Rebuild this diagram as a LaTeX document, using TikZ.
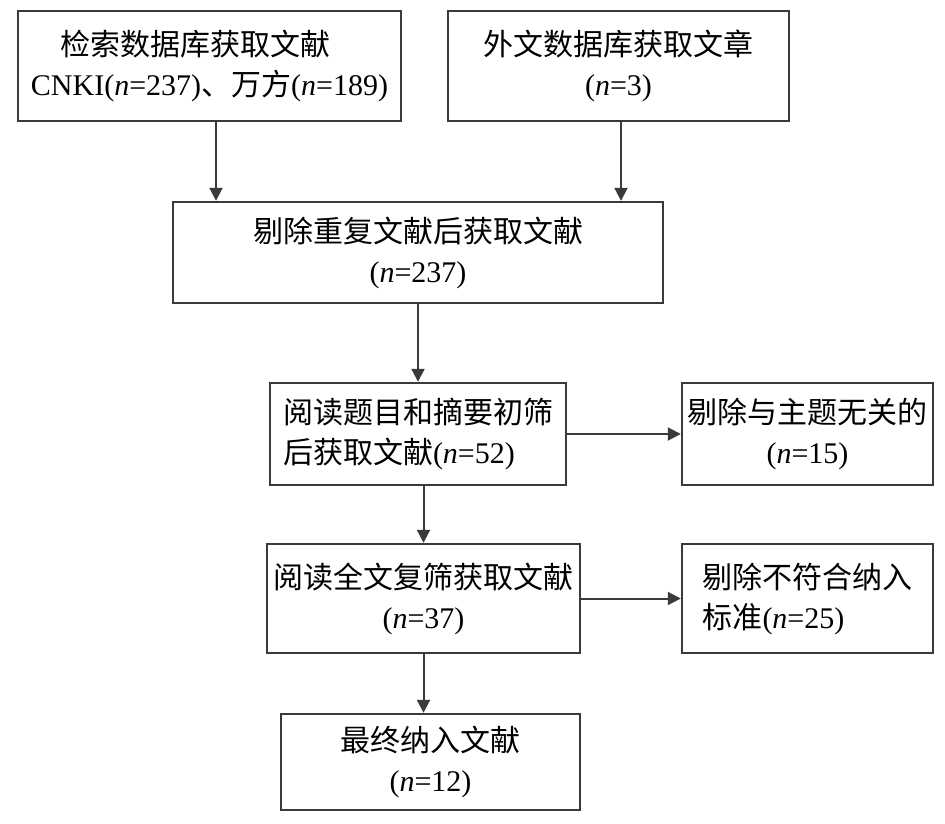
\documentclass[tikz,border=0pt]{standalone}
\usepackage{fontspec}
\setmainfont{Liberation Serif}
\newfontfamily\cjk{Noto Sans CJK SC}
\usetikzlibrary{arrows.meta}
\definecolor{edge}{HTML}{3A3A3A}
\begin{document}
\begin{tikzpicture}[x=1pt,y=-1pt,
  boxnode/.style={draw=edge,line width=2.4pt,inner sep=0pt,font=\fontsize{30}{40}\selectfont},
  arr/.style={draw=edge,line width=2pt,-{Triangle[length=13pt,width=13pt]}}]
\useasboundingbox (0,0) rectangle (945,823);
\node[boxnode,minimum width=383pt,minimum height=110pt,align=left] (b1) at (209.5,66)
  {\hspace{30pt}{\cjk 检索数据库获取文献}\\CNKI(\textit{n}=237){\cjk 、万方}(\textit{n}=189)};
\node[boxnode,minimum width=341pt,minimum height=110pt,align=center] (b2) at (618.5,66)
  {{\cjk 外文数据库获取文章}\\(\textit{n}=3)};
\node[boxnode,minimum width=490pt,minimum height=101pt,align=center] (b3) at (418,252.5)
  {{\cjk 剔除重复文献后获取文献}\\(\textit{n}=237)};
\node[boxnode,minimum width=296pt,minimum height=102pt,align=left] (b4) at (418,434)
  {{\cjk 阅读题目和摘要初筛}\\{\cjk 后获取文献}(\textit{n}=52)};
\node[boxnode,minimum width=251pt,minimum height=102pt,align=center] (b5) at (807.5,434)
  {{\cjk 剔除与主题无关的}\\(\textit{n}=15)};
\node[boxnode,minimum width=313pt,minimum height=109pt,align=center] (b6) at (423.5,598.5)
  {{\cjk 阅读全文复筛获取文献}\\(\textit{n}=37)};
\node[boxnode,minimum width=251pt,minimum height=109pt,align=left] (b7) at (807.5,598.5)
  {{\cjk 剔除不符合纳入}\\{\cjk 标准}(\textit{n}=25)};
\node[boxnode,minimum width=299pt,minimum height=96pt,align=center] (b8) at (430.5,762)
  {{\cjk 最终纳入文献}\\(\textit{n}=12)};
\draw[arr] ([xshift=6.5pt]b1.south) -- ([xshift=6.5pt]b1.south |- b3.north);
\draw[arr] ([xshift=2.5pt]b2.south) -- ([xshift=2.5pt]b2.south |- b3.north);
\draw[arr] (b3.south) -- (b3.south |- b4.north);
\draw[arr] (b6.north |- b4.south) -- (b6.north);
\draw[arr] (b4.east) -- (b5.west);
\draw[arr] (b6.east) -- (b7.west);
\draw[arr] (b6.south) -- (b6.south |- b8.north);
\end{tikzpicture}
\end{document}
